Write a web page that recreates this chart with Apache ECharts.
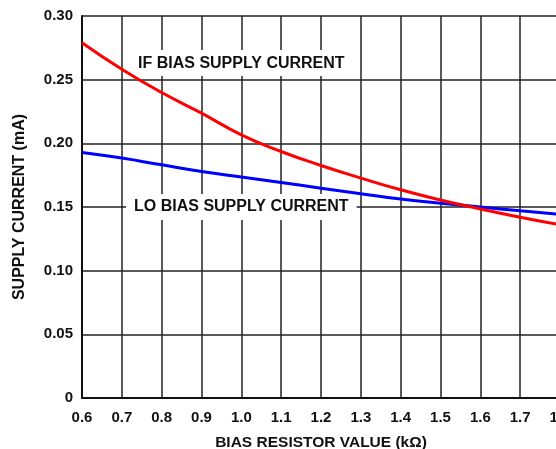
<!DOCTYPE html>
<html>
<head>
<meta charset="utf-8">
<script src="https://cdn.jsdelivr.net/npm/echarts@6/dist/echarts.min.js"></script>
<style>
html,body{margin:0;padding:0;background:#fff;}
#chart{width:556px;height:449px;}
</style>
</head>
<body>
<div id="chart"></div>
<script>
// Data
var resistorK = [0.6, 0.7, 0.8, 0.9, 1.0, 1.1, 1.2, 1.3, 1.4, 1.5, 1.6, 1.7, 1.8];
var ifBiasCurrent = [0.2790, 0.2582, 0.2399, 0.2237, 0.2067, 0.1936, 0.1826, 0.1727, 0.1635, 0.1555, 0.1485, 0.1420, 0.1360];
var loBiasCurrent = [0.1928, 0.1884, 0.1831, 0.1779, 0.1735, 0.1692, 0.1648, 0.1604, 0.1562, 0.1530, 0.1500, 0.1470, 0.1442];
var seriesNames = ['IF BIAS SUPPLY CURRENT', 'LO BIAS SUPPLY CURRENT'];
var labelAnchorIF = [1.0, 0.263];
var labelAnchorLO = [1.0, 0.150];
var xTickLabels = ['0.6','0.7','0.8','0.9','1.0','1.1','1.2','1.3','1.4','1.5','1.6','1.7','1.8'];
var yTickLabels = ['0','0.05','0.10','0.15','0.20','0.25','0.30'];
var xTitle = 'BIAS RESISTOR VALUE (k\u03A9)';
var yTitle = 'SUPPLY CURRENT (mA)';

var FONT = '"Liberation Sans", Arial, Helvetica, sans-serif';
function pairs(xs, ys){ return xs.map(function(x,i){ return [x, ys[i]]; }); }

var chart = echarts.init(document.getElementById('chart'), null, {renderer:'canvas'});
chart.setOption({
  animation: false,
  backgroundColor: '#fff',
  grid: {left: 82, right: -4, top: 16, bottom: 51, containLabel: false, outerBoundsMode: 'none'},
  xAxis: {
    type: 'value', min: 0.6, max: 1.8, interval: 0.1,
    name: xTitle, nameLocation: 'middle', nameGap: 37,
    nameTextStyle: {color: '#111', fontFamily: FONT, fontWeight: 'bold', fontSize: 15.5},
    axisLine: {show: true, lineStyle: {color: '#111', width: 2}},
    axisTick: {show: false},
    axisLabel: {
      color: '#111', fontFamily: FONT, fontWeight: 'bold', fontSize: 15, margin: 12,
      hideOverlap: false,
      formatter: function(v){ var i = Math.round((v - 0.6) / 0.1); return xTickLabels[i] || ''; }
    },
    splitLine: {show: true, lineStyle: {color: '#222', width: 1.5}}
  },
  yAxis: {
    type: 'value', min: 0, max: 0.30, interval: 0.05,
    name: yTitle, nameLocation: 'middle', nameGap: 54, nameRotate: 90,
    nameTextStyle: {color: '#111', fontFamily: FONT, fontWeight: 'bold', fontSize: 16},
    axisLine: {show: true, lineStyle: {color: '#111', width: 2}},
    axisTick: {show: false},
    axisLabel: {
      color: '#111', fontFamily: FONT, fontWeight: 'bold', fontSize: 15, margin: 9,
      formatter: function(v){ var i = Math.round(v / 0.05); return yTickLabels[i] || ''; }
    },
    splitLine: {show: true, lineStyle: {color: '#222', width: 1.5}}
  },
  series: [
    {
      name: 'labels', type: 'scatter', symbolSize: 0, silent: true, z: 1,
      itemStyle: {opacity: 1},
      data: [
        {name: seriesNames[0], value: labelAnchorIF},
        {name: seriesNames[1], value: labelAnchorLO}
      ],
      label: {
        show: true, position: 'inside', formatter: '{b}',
        color: '#111', fontFamily: FONT, fontWeight: 'bold', fontSize: 16,
        backgroundColor: '#fff', padding: [5, 8], opacity: 1
      }
    },
    {
      name: seriesNames[0], type: 'line', smooth: true, symbol: 'none',
      data: pairs(resistorK, ifBiasCurrent),
      lineStyle: {color: '#ff0000', width: 3}, itemStyle: {color: '#ff0000'},
      z: 3
    },
    {
      name: seriesNames[1], type: 'line', smooth: true, symbol: 'none',
      data: pairs(resistorK, loBiasCurrent),
      lineStyle: {color: '#0000ff', width: 3}, itemStyle: {color: '#0000ff'},
      z: 2
    }
  ]
});
</script>
</body>
</html>
